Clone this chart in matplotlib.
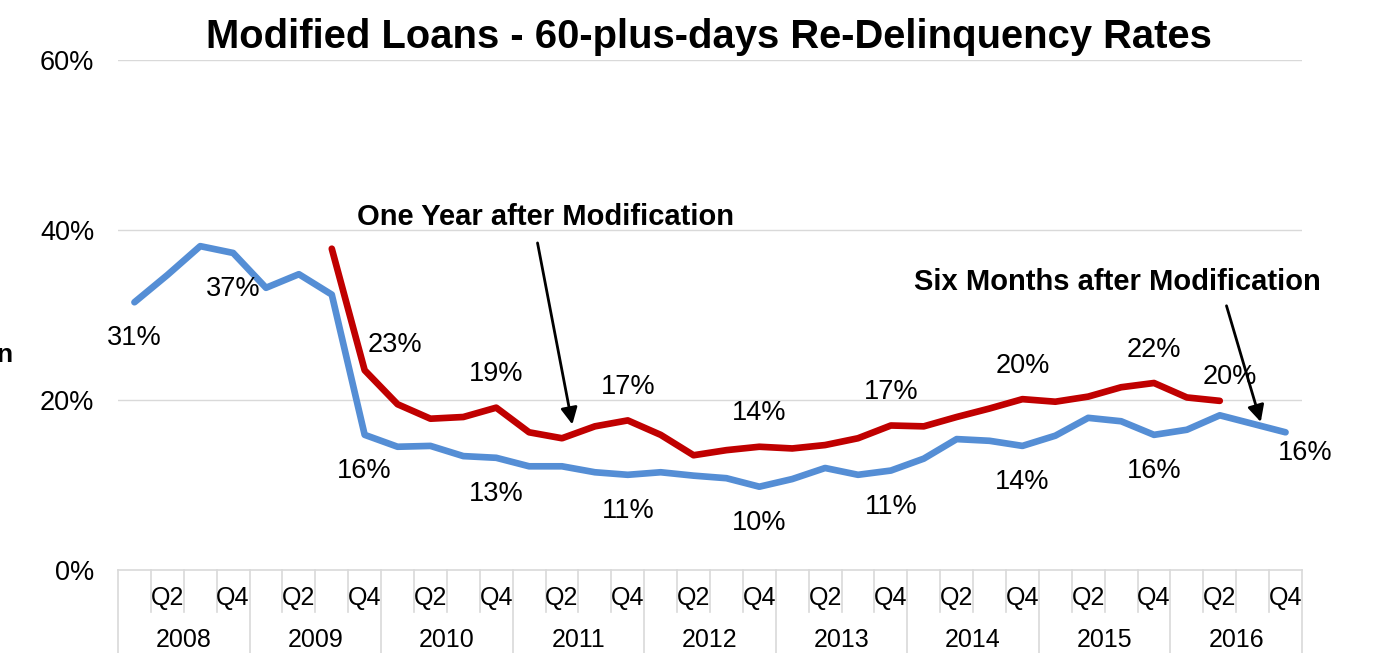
import numpy as np
import matplotlib
matplotlib.use("Agg")
import matplotlib.pyplot as plt
import matplotlib.transforms as mtransforms

plt.rcParams["font.family"] = ["Liberation Sans", "DejaVu Sans"]

TITLE = "Modified Loans - 60-plus-days Re-Delinquency Rates"
YEARS = ["2008", "2009", "2010", "2011", "2012", "2013", "2014", "2015", "2016"]
QUARTER_LABELS = ["", "Q2", "", "Q4"]

# six months after modification (blue), 2008 Q1 .. 2016 Q4
six_months = [31.5, 34.7, 38.1, 37.3, 33.2, 34.8, 32.4, 15.9, 14.5, 14.6, 13.4, 13.2,
              12.2, 12.2, 11.5, 11.2, 11.5, 11.1, 10.8, 9.8, 10.7, 12.0, 11.2, 11.7,
              13.1, 15.4, 15.2, 14.6, 15.8, 17.9, 17.5, 15.9, 16.5, 18.2, 17.2, 16.2]

# one year after modification (red), starts 2009 Q3, ends 2016 Q2
one_year = [np.nan] * 6 + [37.8, 23.5, 19.5, 17.8, 18.0, 19.1,
                           16.2, 15.5, 16.9, 17.6, 15.9, 13.5, 14.1, 14.5, 14.3, 14.7,
                           15.5, 17.0, 16.9, 18.0, 19.0, 20.1, 19.8, 20.4, 21.5, 22.0,
                           20.3, 19.9] + [np.nan] * 2

# data labels: index, text
six_label_idx = [0, 3, 7, 11, 15, 19, 23, 27, 31, 35]
six_label_txt = ["31%", "37%", "16%", "13%", "11%", "10%", "11%", "14%", "16%", "16%"]
one_label_idx = [7, 11, 15, 19, 23, 27, 31, 33]
one_label_txt = ["23%", "19%", "17%", "14%", "17%", "20%", "22%", "20%"]

BLUE = "#558ED5"
RED = "#C00000"
GRID = "#D9D9D9"

n = len(six_months)
x = np.arange(n)

fig = plt.figure(figsize=(13.77, 6.53), dpi=100)
ax = fig.add_axes([118 / 1377, 83 / 653, 1184 / 1377, 510 / 653])

ax.plot(x, six_months, color=BLUE, lw=4.8, solid_joinstyle="round", solid_capstyle="round", zorder=3)
ax.plot(x, one_year, color=RED, lw=4.8, solid_joinstyle="round", solid_capstyle="round", zorder=3)

ax.set_xlim(-0.5, n - 0.5)
ax.set_ylim(0, 60)
ax.set_yticks([0, 20, 40, 60])
ax.set_yticklabels(["0%", "20%", "40%", "60%"])
ax.tick_params(axis="y", length=0, pad=17, labelsize=19.5)
ax.set_xticks([])
for s in ax.spines.values():
    s.set_visible(False)
for yv in [20, 40, 60]:
    ax.axhline(yv, color=GRID, lw=1, zorder=1)

# data labels
for i, t in zip(six_label_idx, six_label_txt):
    dx = 14 if i == n - 1 else 0
    dy = -15 if i == n - 1 else -26
    ax.annotate(t, (i, six_months[i]), xytext=(dx, dy), textcoords="offset points",
                ha="center", va="center", fontsize=19.5)
for i, t in zip(one_label_idx, one_label_txt):
    dx, dy = 0, 24
    if i == 7:
        dx, dy = 22, 18
    if i == 33:
        dx, dy = 7, 17
    ax.annotate(t, (i, one_year[i]), xytext=(dx, dy), textcoords="offset points",
                ha="center", va="center", fontsize=19.5)

# series call-outs
ax.annotate("", xy=(13.33, 16.8), xytext=(12.24, 38.8),
            arrowprops=dict(arrowstyle="-|>", color="black", lw=2, mutation_scale=25))
ax.text(12.5, 41.5, "One Year after Modification", ha="center", va="center",
        fontsize=21, fontweight="bold")
ax.annotate("", xy=(34.27, 17.1), xytext=(33.18, 31.4),
            arrowprops=dict(arrowstyle="-|>", color="black", lw=2, mutation_scale=25))
ax.text(29.9, 33.9, "Six Months after Modification", ha="center", va="center",
        fontsize=21, fontweight="bold")

# two-level category axis
trans = mtransforms.blended_transform_factory(ax.transData, ax.transAxes)
q_bottom = -42 / 510
y_bottom = -83 / 510
ax.plot([-0.5, n - 0.5], [0, 0], color=GRID, lw=1.2, transform=trans, clip_on=False)
for b in range(n + 1):
    yb = y_bottom if b % 4 == 0 else q_bottom
    ax.plot([b - 0.5, b - 0.5], [0, yb], color=GRID, lw=1.2, transform=trans, clip_on=False)
for i in range(n):
    ax.text(i, -28 / 510, QUARTER_LABELS[i % 4], transform=trans, ha="center", va="center",
            fontsize=18)
for k, yr in enumerate(YEARS):
    ax.text(4 * k + 1.5, -70 / 510, yr, transform=trans, ha="center", va="center", fontsize=18)

fig.text(0.5 + (709 - 688.5) / 1377, 1 - 37 / 653, TITLE, ha="center", va="center",
         fontsize=28.8, fontweight="bold")
fig.text(-0.003, 1 - 355 / 653, "n", ha="left", va="center", fontsize=19, fontweight="bold")

fig.savefig("out.png", dpi=100)
